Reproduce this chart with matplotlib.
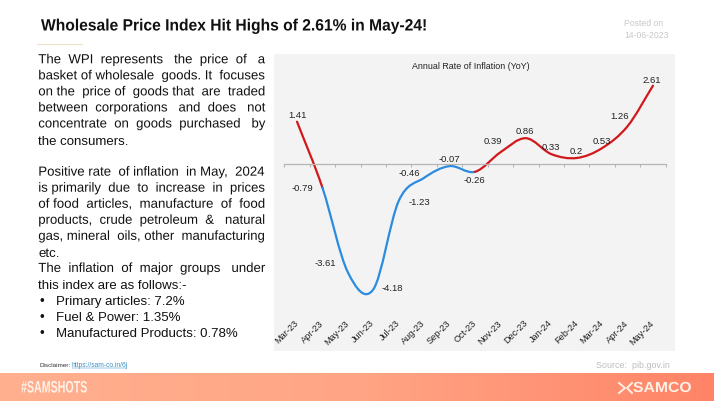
import numpy as np
import matplotlib
matplotlib.use("Agg")
import matplotlib.pyplot as plt
from matplotlib.path import Path
from matplotlib.patches import PathPatch, Rectangle
from matplotlib.patheffects import AbstractPathEffect
from matplotlib.transforms import Affine2D
from matplotlib.colors import LinearSegmentedColormap

months = ["Mar-23","Apr-23","May-23","Jun-23","Jul-23","Aug-23","Sep-23","Oct-23",
          "Nov-23","Dec-23","Jan-24","Feb-24","Mar-24","Apr-24","May-24"]
inflation = [1.41,-0.79,-3.61,-4.18,-1.23,-0.46,-0.07,-0.26,0.39,0.86,0.33,0.2,0.53,1.26,2.61]
value_labels = ["1.41","-0.79","-3.61","-4.18","-1.23","-0.46","-0.07","-0.26",
                "0.39","0.86","0.33","0.2","0.53","1.26","2.61"]
segment_colors = ["#d3181b","#2b8be0","#d3181b"]
segment_breaks = [(0,1),(1,7),(7,14)]

title = "Wholesale Price Index Hit Highs of 2.61% in May-24!"
para = ["The WPI represents the price of a","basket of wholesale goods. It focuses",
        "on the price of goods that are traded","between corporations and does not",
        "concentrate on goods purchased by","the consumers.","",
        "Positive rate of inflation in May, 2024","is primarily due to increase in prices",
        "of food articles, manufacture of food","products, crude petroleum & natural",
        "gas, mineral oils, other manufacturing","etc.","The inflation of major groups under",
        "this index are as follows:-"]
bullets = ["Primary articles: 7.2%","Fuel & Power: 1.35%","Manufactured Products: 0.78%"]

W,H = 714,402
plt.rcParams['font.family'] = ['Liberation Sans','DejaVu Sans']
fig = plt.figure(figsize=(W/100,H/100),dpi=100,facecolor='white')
bg = fig.add_axes([0,0,1,1]); bg.set_xlim(0,W); bg.set_ylim(H,0); bg.axis('off')

class XScale(AbstractPathEffect):
    """Stretch text horizontally about its left edge, keeping it real text."""
    def __init__(self,sx,x0):
        super().__init__()
        self.sx,self.x0 = sx,x0
    def draw_path(self,renderer,gc,tpath,affine,rgbFace=None):
        a = affine + Affine2D().translate(-self.x0,0).scale(self.sx,1).translate(self.x0,0)
        renderer.draw_path(gc,tpath,a,rgbFace)

fig.canvas.draw()
r = fig.canvas.get_renderer()
def width(s,**kw):
    tt = bg.text(0,0,s,**kw); w = tt.get_window_extent(r).width; tt.remove(); return w
def fitted(x,y,s,target,**kw):
    sx = target/width(s,**kw)
    t = bg.text(x,y,s,va='center',zorder=3,**kw)
    t.set_path_effects([XScale(sx,x)])
    return t

# panel and footer
bg.add_patch(Rectangle((274,55),401,297,fc='#f3f3f3',ec='none'))
grad = np.linspace(0,1,256)[None,:]
cmap = LinearSegmentedColormap.from_list('f',['#ffb08f','#ffa585','#ff8467'])
bg.imshow(grad,extent=(0,W,402,374),cmap=cmap,aspect='auto',zorder=1)
bg.set_xlim(0,W); bg.set_ylim(H,0)

fitted(41,27,title,385,fontsize=11.8,fontweight='bold',color='#111111')
bg.plot([37,82],[45,45],color='#ecdfc8',lw=0.8)
bg.text(624,24,"Posted on",fontsize=6.2,color='#c8c8c8',va='center')
bg.text(624,35,"14-06-2023",fontsize=6.2,color='#c8c8c8',va='center')
bg.text(39.6,366,"Disclaimer:",fontsize=4.6,color='#333333',va='center')
bg.text(71.5,366,"https://sam-co.in/6j",fontsize=4.8,color='#3b8fc4',va='center')
bg.plot([71.5,126],[369,369],color='#3b8fc4',lw=0.35)
bg.text(596.5,366,"Source:  pib.gov.in",fontsize=6.4,color='#bdbdbd',va='center')
fitted(21,389,"#SAMSHOTS",66,fontsize=12,fontweight='bold',color='#fff0e6')
fitted(633,389,"SAMCO",59,fontsize=10.5,fontweight='bold',color='#fff0e6')
bg.plot([619,625,619],[384,389,394],color='#fff0e6',lw=1.4,zorder=3)
bg.plot([632,627,632],[384,389,394],color='#fff0e6',lw=1.4,zorder=3)

# justified body text
FS = 9.5
def justify(s,target):
    words = s.split(' ')
    n = len(words)-1
    sp = width('a a',fontsize=FS)-width('aa',fontsize=FS)
    extra = int(round((target-width(s,fontsize=FS))/sp))
    out = words[0]
    for i,w in enumerate(words[1:]):
        g = 1+((i+1)*extra)//n-(i*extra)//n
        out += ' '*g + w
    return out
y = 61.3; step = 16.05
nojust = {"the consumers.","etc.","this index are as follows:-"}
for line in para:
    if line in nojust:
        bg.text(38.3,y,line,fontsize=FS,va='center',color='#111111')
    elif line:
        fitted(38.3,y,justify(line,226.7),226.7,fontsize=FS,color='#111111')
    y += step
for b in bullets:
    bg.text(39.5,y,"•",fontsize=FS,va='center',color='#111111')
    bg.text(55.7,y,b,fontsize=FS,va='center',color='#111111')
    y += step

# chart
x0,x1 = 284.3,665.7
ytop,ybot = 70,305
scale = 30.0; y0 = 165
ax = fig.add_axes([x0/W,1-ybot/H,(x1-x0)/W,(ybot-ytop)/H])
ax.patch.set_alpha(0)
ax.set_xlim(-0.5,14.5)
ax.set_ylim(-(ybot-y0)/scale,(y0-ytop)/scale)
for s in ['top','left','right']: ax.spines[s].set_visible(False)
ax.spines['bottom'].set_position(('data',0)); ax.spines['bottom'].set_color('#b5b5b5')
ax.spines['bottom'].set_linewidth(0.9)
ax.set_yticks([])
xs = np.arange(len(months))
ax.set_xticks(np.arange(-0.5,15,1)); ax.set_xticklabels([])
ax.tick_params(axis='x',which='major',length=2.2,color='#b5b5b5',width=0.8,direction='out')
ax.set_xticks(xs,minor=True)
ax.set_xticklabels(months,minor=True,rotation=45,ha='right',va='center',rotation_mode='anchor',
                   fontsize=6.6,color='#222222')
ax.tick_params(axis='x',which='minor',length=0,pad=113)

vals = np.array(inflation)
def tangents(v):
    t = np.zeros_like(v)
    t[1:-1] = (v[2:]-v[:-2])/2
    t[0] = v[1]-v[0]; t[-1] = v[-1]-v[-2]
    return t
tan = tangents(vals)
for (a,b),c in zip(segment_breaks,segment_colors):
    verts=[(xs[a],vals[a])]; codes=[Path.MOVETO]
    for i in range(a,b):
        verts += [(xs[i]+1/3,vals[i]+tan[i]/3),(xs[i+1]-1/3,vals[i+1]-tan[i+1]/3),(xs[i+1],vals[i+1])]
        codes += [Path.CURVE4]*3
    ax.add_patch(PathPatch(Path(verts,codes),fc='none',ec=c,lw=1.6,capstyle='round',clip_on=False))

# label offsets from their points, in pixels
label_off = [(0,7),(-20,.7),(-23,9.6),(18.8,1.7),(20.8,-.8),(-15.3,5.8),(-.4,7.8),(-.4,-7.5),
             (-7.2,11.6),(-.6,7.5),(-.6,7.4),(-.7,7.7),(-.8,7.4),(-7.8,10.5),(-.9,6.4)]
for x,v,s,(dx,dy) in zip(xs,vals,value_labels,label_off):
    ax.annotate(s,(x,v),xytext=(dx*0.72,dy*0.72),textcoords='offset points',ha='center',va='center',
                fontsize=6.8,color='#222222',annotation_clip=False)
bg.text(471,66.7,"Annual Rate of Inflation (YoY)",fontsize=6.4,ha='center',va='center',color='#222222')
fig.savefig('out.png',dpi=100)
